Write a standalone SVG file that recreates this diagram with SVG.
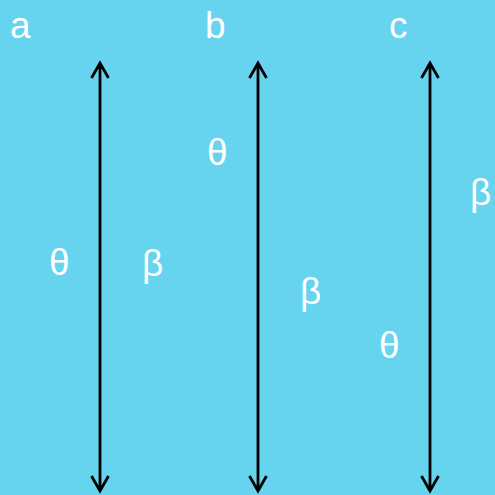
<svg xmlns="http://www.w3.org/2000/svg" width="495" height="495" viewBox="0 0 495 495">
<style>
.t{fill:#fff;font-family:"Liberation Sans",Arial,sans-serif;font-size:37px}
.ln{stroke:#000;stroke-width:2.8;fill:none}
</style>
<rect width="495" height="495" fill="#66D4EF"/>
<g id="connectors" class="ln">
<path d="M100 63V491M91.5 78L100 63L108.5 78M91.5 476L100 491L108.5 476"/>
<path d="M258 63V491M249.5 78L258 63L266.5 78M249.5 476L258 491L266.5 476"/>
<path d="M430 63V491M421.5 78L430 63L438.5 78M421.5 476L430 491L438.5 476"/>
</g>
<g id="label-a"><text class="t" x="10" y="38">a</text></g>
<g id="label-b"><text class="t" x="205" y="38">b</text></g>
<g id="label-c"><text class="t" x="389" y="38">c</text></g>
<g id="theta-a"><text class="t" x="49" y="275">θ</text></g>
<g id="beta-a"><text class="t" x="142" y="276">β</text></g>
<g id="theta-b"><text class="t" x="207" y="165">θ</text></g>
<g id="beta-b"><text class="t" x="300" y="304">β</text></g>
<g id="theta-c"><text class="t" x="379" y="358">θ</text></g>
<g id="beta-c"><text class="t" x="470" y="205">β</text></g>
</svg>
